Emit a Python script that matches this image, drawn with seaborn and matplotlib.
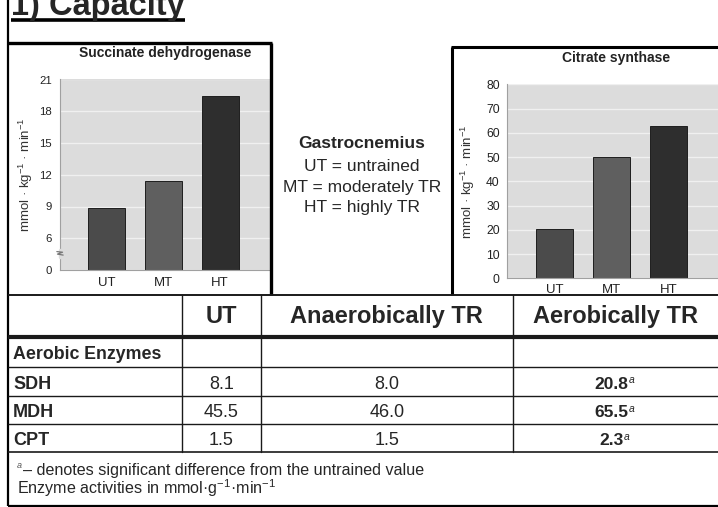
import numpy as np
import matplotlib
matplotlib.use("Agg")
import matplotlib.pyplot as plt
from matplotlib.patches import Rectangle
import seaborn as sns

sns.set_theme(style="white")
plt.rcParams['font.family'] = ['Liberation Sans', 'DejaVu Sans']
plt.rcParams['mathtext.fontset'] = 'custom'
plt.rcParams['mathtext.rm'] = 'Liberation Sans'
plt.rcParams['mathtext.it'] = 'Liberation Sans:italic'
plt.rcParams['mathtext.bf'] = 'Liberation Sans:bold'

# bar chart data
groups = ["UT", "MT", "HT"]
sdh_vals = [8.9, 11.4, 19.4]
cs_vals = [20.2, 50.0, 62.7]
sdh_ticks = [0, 6, 9, 12, 15, 18, 21]
cs_ticks = [0, 10, 20, 30, 40, 50, 60, 70, 80]
bar_grays = ["#4b4b4b", "#5f5f5f", "#2e2e2e"]

key_title = "Gastrocnemius"
key_lines = ["UT = untrained", "MT = moderately TR", "HT = highly TR"]

# table data
col_heads = ["UT", "Anaerobically TR", "Aerobically TR"]
enzymes = ["SDH", "MDH", "CPT"]
ut_act = [8.1, 45.5, 1.5]
anaer_act = [8.0, 46.0, 1.5]
aer_act = [20.8, 65.5, 2.3]
aer_signif = [True, True, True]

W, H = 718, 507
fig = plt.figure(figsize=(W / 100, H / 100), dpi=100)


def px_axes(l, t, r, b):
    return fig.add_axes([l / W, 1 - b / H, (r - l) / W, (b - t) / H])


def sdh_pos(v):
    # broken axis: 0-6 squeezed into one step, then 3 units per step
    v = np.asarray(v, float)
    return np.where(v <= 6, v / 6, (v - 3) / 3)


def bar_panel(ax, vals, ticks, tickpos, xlim, ylabel_x, ypad, xpad, fs):
    sns.barplot(x=groups, y=vals, hue=groups, palette=bar_grays, legend=False,
                width=0.65, saturation=1, edgecolor="#1e1e1e", linewidth=0.7, ax=ax)
    ax.set_facecolor("#dcdcdc")
    ax.set_yticks(tickpos)
    ax.set_yticklabels([str(t) for t in ticks])
    ax.set_ylim(0, tickpos[-1])
    ax.set_xlim(*xlim)
    ax.yaxis.grid(True, color="#f0f0f0", lw=1)
    ax.xaxis.grid(False)
    ax.set_axisbelow(True)
    for s in ["top", "right"]:
        ax.spines[s].set_visible(False)
    for s in ["left", "bottom"]:
        ax.spines[s].set_color("#a0a0a0")
        ax.spines[s].set_linewidth(0.8)
    ax.tick_params(axis="y", length=0, labelsize=fs, colors="#222222", pad=ypad)
    ax.tick_params(axis="x", length=0, labelsize=9.5, colors="#222222", pad=xpad)
    ax.set_xlabel("")
    ax.set_ylabel("mmol · kg$^{-1}$ · min$^{-1}$", fontsize=9.5, color="#333333")
    ax.yaxis.set_label_coords(ylabel_x, 0.5)


# left chart: succinate dehydrogenase
ax1 = px_axes(60, 79.5, 270.7, 270)
bar_panel(ax1, sdh_pos(sdh_vals), sdh_ticks, sdh_pos(sdh_ticks), (-0.82, 2.89),
          (35 - 60) / 210.7, 6, 5, 8.2)
trans = ax1.get_yaxis_transform()
ax1.plot([0, 0], [0.42, 0.62], transform=trans, color="#dcdcdc", lw=2.5, clip_on=False, zorder=5)
ax1.plot([-0.015, 0.012, -0.012, 0.015], [0.58, 0.56, 0.50, 0.47], transform=trans,
         color="#777777", lw=0.9, clip_on=False, zorder=6)

# right chart: citrate synthase
ax2 = px_axes(506.7, 84.3, 725, 278.3)
bar_panel(ax2, cs_vals, cs_ticks, cs_ticks, (-0.83, 2.98),
          (477 - 506.7) / 218.3, 5, 4, 8.7)

# overlay in pixel coordinates for frames, text and the table
ov = fig.add_axes([0, 0, 1, 1])
ov.set_xlim(0, W)
ov.set_ylim(H, 0)
ov.axis("off")
ov.patch.set_alpha(0)
ov.set_zorder(10)

ov.add_patch(Rectangle((8, 295), W - 8, 211, facecolor="white", edgecolor="none", zorder=0))

k = dict(color="black", solid_capstyle="butt")
ov.plot([8, 8], [0, 505.7], lw=1.6, **k)
ov.plot([8, W], [505.7, 505.7], lw=1.6, **k)
ov.plot([8, 271.7], [42.7, 42.7], lw=2.4, **k)
ov.plot([270.7, 270.7], [42.7, 295], lw=2.4, **k)
ov.plot([451.7, 451.7], [46.7, 295], lw=2.2, **k)
ov.plot([450.6, W], [46.7, 46.7], lw=2.2, **k)

title = ov.text(11, 15, "1) Capacity", fontsize=23.5, fontweight="bold", ha="left", va="baseline")
ov.text(165, 53, "Succinate dehydrogenase", fontsize=10, fontweight="bold", ha="center", va="center",
        color="#222222")
ov.text(615.7, 57.7, "Citrate synthase", fontsize=10, fontweight="bold", ha="center", va="center",
        color="#222222")

ov.text(362, 144, key_title, fontsize=12.5, fontweight="bold", ha="center", va="center")
for i, line in enumerate(key_lines):
    ov.text(362, 166.5 + 20.7 * i, line, fontsize=12.5, ha="center", va="center")

# table grid
row_edges = [295, 336.5, 366.7, 395.7, 424, 451.7]
row_lw = [1.4, 3.0, 1.0, 1.0, 1.0, 1.2]
col_edges = [8, 182, 261, 512.7, W]
for y, lw in zip(row_edges, row_lw):
    ov.plot([8, W], [y, y], lw=lw, color="#1a1a1a", solid_capstyle="butt")
for x in col_edges[1:-1]:
    ov.plot([x, x], [295, 451.7], lw=1.0, color="#1a1a1a")

col_mid = [(a + b) / 2 for a, b in zip(col_edges[1:-1], col_edges[2:])]
row_base = [(a + b) / 2 + 7.5 for a, b in zip(row_edges[:-1], row_edges[1:])]

for x, head in zip(col_mid, col_heads):
    ov.text(x, row_base[0], head, fontsize=17, fontweight="bold", ha="center", va="baseline")

ov.text(13, row_base[1], "Aerobic Enzymes", fontsize=12.8, fontweight="bold", ha="left", va="baseline")
for i, name in enumerate(enzymes):
    yb = row_base[i + 2]
    ov.text(13, yb, name, fontsize=13, fontweight="bold", ha="left", va="baseline")
    ov.text(col_mid[0], yb, f"{ut_act[i]:.1f}", fontsize=13, ha="center", va="baseline")
    ov.text(col_mid[1], yb, f"{anaer_act[i]:.1f}", fontsize=13, ha="center", va="baseline")
    t = ov.text(col_mid[2] - 4, yb, f"{aer_act[i]:.1f}", fontsize=12.5, fontweight="bold",
                ha="center", va="baseline")
    if aer_signif[i]:
        ov.annotate("a", xy=(1.0, 0.45), xycoords=t, xytext=(0.5, 0), textcoords="offset points",
                    fontsize=7.5, style="italic", ha="left", va="bottom")

# footnotes
ov.text(17, 468, "a", fontsize=6.5, style="italic", color="#555555", ha="left", va="baseline")
ov.text(23, 475.5, "– denotes significant difference from the untrained value", fontsize=11.6,
        ha="left", va="baseline")
ov.text(17, 494, "Enzyme activities in mmol·g$^{-1}$·min$^{-1}$", fontsize=11.6,
        ha="left", va="baseline")

# underline the slide title
fig.canvas.draw()
bb = title.get_window_extent()
(x0, _), (x1, _) = ov.transData.inverted().transform([[bb.x0, bb.y0], [bb.x1, bb.y1]])
ov.plot([x0, x1], [20, 20], lw=2.6, color="black", solid_capstyle="butt")

fig.savefig("out.png", dpi=100)
